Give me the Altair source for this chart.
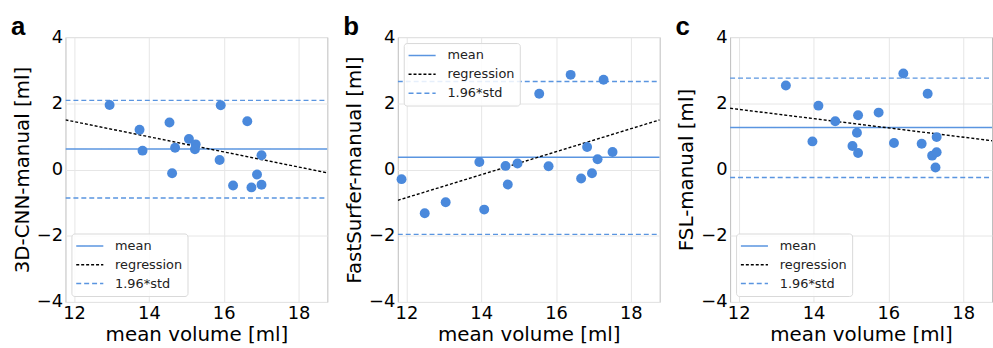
import altair as alt
import pandas as pd

# ---- data ----
X_DOMAIN = [11.77, 18.77]
Y_DOMAIN = [-4, 4]

a_x = [12.95, 13.75, 13.83, 14.55, 14.62, 14.70, 15.07, 15.25, 15.23, 15.89, 15.92, 16.25, 16.63, 16.74, 16.89, 17.01, 17.01]
a_y = [1.95, 1.20, 0.57, 1.42, -0.11, 0.66, 0.92, 0.76, 0.61, 0.29, 1.94, -0.48, 1.46, -0.54, -0.15, 0.43, -0.46]
a_lines = {"mean": 0.62, "upper": 2.09, "lower": -0.86, "reg": [1.50, -0.10]}

b_x = [11.87, 12.49, 13.05, 13.95, 14.08, 14.65, 14.71, 14.97, 15.55, 15.80, 16.39, 16.67, 16.83, 16.96, 17.11, 17.27, 17.51]
b_y = [-0.29, -1.32, -0.99, 0.23, -1.21, 0.11, -0.45, 0.18, 2.29, 0.10, 2.86, -0.27, 0.68, -0.11, 0.31, 2.71, 0.53]
b_lines = {"mean": 0.37, "upper": 2.66, "lower": -1.96, "reg": [-0.93, 1.50]}

c_x = [13.26, 13.97, 14.13, 14.58, 15.04, 15.16, 15.19, 15.19, 15.74, 16.15, 16.40, 16.89, 17.05, 17.17, 17.29, 17.29, 17.26]
c_y = [2.54, 0.85, 1.93, 1.46, 0.71, 1.11, 1.64, 0.50, 1.72, 0.80, 2.90, 0.78, 2.29, 0.42, 0.98, 0.52, 0.06]
c_lines = {"mean": 1.27, "upper": 2.76, "lower": -0.24, "reg": [1.85, 0.87]}

letters = ["a", "b", "c"]
ylabels = ["3D-CNN-manual [ml]", "FastSurfer-manual [ml]", "FSL-manual [ml]"]
legend_orients = ["bottom-left", "top-left", "bottom-left"]
series_order = ["mean", "regression", "1.96*std"]
x_ticks = [12, 14, 16, 18]
y_ticks = [-4, -2, 0, 2, 4]

POINT_BLUE = "#4a89dc"
LINE_BLUE = "#5a95e0"
FONT = "DejaVu Sans"


def panel(letter, ylabel, xs, ys, ln, orient):
    pts = pd.DataFrame({"x": xs, "y": ys})
    lines = pd.DataFrame({
        "x": X_DOMAIN * 4,
        "y": [ln["mean"], ln["mean"], ln["reg"][0], ln["reg"][1],
              ln["upper"], ln["upper"], ln["lower"], ln["lower"]],
        "series": ["mean"] * 2 + ["regression"] * 2 + ["1.96*std"] * 4,
        "grp": ["m"] * 2 + ["r"] * 2 + ["u"] * 2 + ["l"] * 2,
    })
    xscale = alt.Scale(domain=X_DOMAIN, nice=False, zero=False)
    yscale = alt.Scale(domain=Y_DOMAIN, nice=False, zero=False)
    xaxis = alt.Axis(values=x_ticks, title="mean volume [ml]", labelFlush=False,
                     labelOverlap=False, format="d", titlePadding=2)
    yaxis = alt.Axis(values=y_ticks, title=ylabel, labelOverlap=False, format="d")
    leg = alt.Legend(
        title=None, orient=orient, offset=6, symbolType="M-2.1,0H2.1",
        symbolSize=169, symbolStrokeWidth=1.5, symbolOffset=6,
        labelFont=FONT, labelFontSize=13,
        labelColor="#222222", labelOffset=18, rowPadding=4, padding=5,
        fillColor="rgba(255,255,255,0.85)", strokeColor="#d9d9d9", cornerRadius=3,
    )
    line_chart = alt.Chart(lines).mark_line(strokeWidth=1.4, clip=True).encode(
        x=alt.X("x:Q", scale=xscale, axis=xaxis),
        y=alt.Y("y:Q", scale=yscale, axis=yaxis),
        color=alt.Color("series:N", sort=series_order,
                        scale=alt.Scale(domain=series_order, range=[LINE_BLUE, "black", LINE_BLUE]),
                        legend=leg),
        strokeDash=alt.StrokeDash("series:N", sort=series_order,
                                  scale=alt.Scale(domain=series_order, range=[[1, 0], [3, 2], [5, 3]]),
                                  legend=leg),
        detail="grp:N",
    )
    pt_chart = alt.Chart(pts).mark_circle(size=100, opacity=1, color=POINT_BLUE).encode(
        x=alt.X("x:Q", scale=xscale, axis=xaxis),
        y=alt.Y("y:Q", scale=yscale, axis=yaxis),
    )
    return alt.layer(line_chart, pt_chart).properties(
        width=264, height=267,
        title=alt.TitleParams(text=letter, anchor="start", frame="group", dx=-55, offset=-12,
                              font="Liberation Sans", fontSize=26, fontWeight="bold", color="black"),
    )


data_sets = [(a_x, a_y, a_lines), (b_x, b_y, b_lines), (c_x, c_y, c_lines)]
panels = [panel(letters[i], ylabels[i], *data_sets[i][:2], data_sets[i][2], legend_orients[i])
          for i in range(3)]

chart = alt.hconcat(*panels, spacing=14).resolve_scale(
    color="independent", strokeDash="independent"
).resolve_legend(color="independent", strokeDash="independent").properties(
    padding={"left": 10, "top": 12, "right": 0, "bottom": 0}
).configure(background="white").configure_view(
    stroke="#bdbdbd", strokeWidth=1
).configure_axis(
    grid=True, gridColor="#e6e6e6", gridWidth=1, domain=False, ticks=False,
    labelFont=FONT, labelFontSize=18, labelColor="black", labelPadding=3,
    titleFont=FONT, titleFontSize=20, titleFontWeight="normal", titleColor="black",
    titlePadding=4,
)

chart.save("out.html", embed_options={"renderer": "svg", "actions": False})
